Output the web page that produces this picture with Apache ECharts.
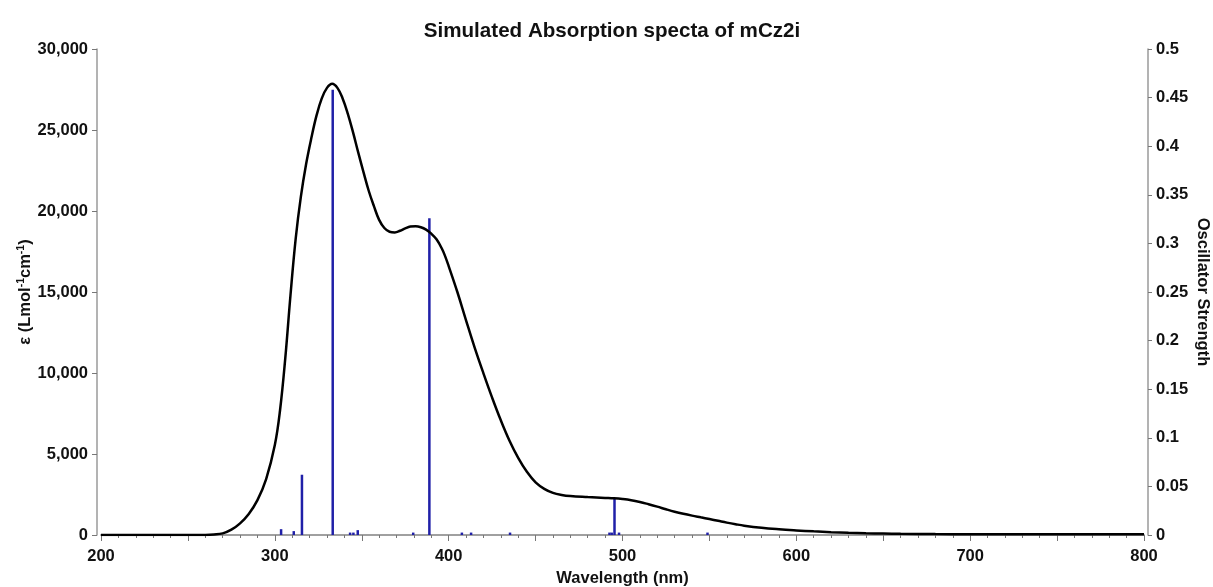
<!DOCTYPE html>
<html>
<head>
<meta charset="utf-8">
<script src="https://cdn.jsdelivr.net/npm/echarts@6/dist/echarts.min.js"></script>
<style>
html,body{margin:0;padding:0;background:#fff;}
#chart{width:1213px;height:587px;}
</style>
</head>
<body>
<div id="chart"></div>
<script>
// Simulated spectrum (wavelength nm, epsilon L mol^-1 cm^-1)
const wavelengths = [200,210,220,230,240,250,260,265,270,275,280,285,290,295,300,303,306,309,312,315,318,321,324,327,330,333,336,339,342,345,348,351,354,357,360,363,366,369,372,375,378,381,384,387,390,393,396,398,400,405,410,415,420,425,430,435,440,445,450,455,460,465,470,480,490,495,500,505,510,515,520,525,530,535,540,545,550,555,560,565,570,580,590,600,610,620,630,640,650,660,680,700,750,800];
const epsilon = [0,0,0,0,0,0,5,30,100,330,720,1300,2150,3450,5550,7700,10900,14800,18300,20900,22900,24500,25900,26950,27600,27850,27600,26950,26000,24850,23600,22400,21250,20300,19450,18950,18720,18680,18780,18930,19040,19060,19000,18850,18600,18250,17700,17200,16600,15000,13250,11550,9980,8480,7080,5820,4760,3900,3250,2850,2600,2470,2400,2340,2290,2265,2220,2150,2040,1900,1750,1590,1440,1310,1195,1090,985,875,765,665,575,445,355,285,225,175,135,105,85,70,55,48,42,40];
// Oscillator strength sticks
const stickWavelengths = [303.6,310.9,315.6,333.3,343.3,345.2,347.7,379.6,388.9,407.6,412.9,435.3,492.5,493.8,495.4,498.0,548.9];
const stickStrengths = [0.006,0.004,0.062,0.458,0.0025,0.0025,0.005,0.0025,0.326,0.0025,0.0025,0.0025,0.0025,0.0025,0.038,0.0025,0.0025];
// Axis ticks
const xTicks = {min:200, max:800, interval:50, labelStep:100};
const yLeftTicks = {min:0, max:30000, interval:5000};
const yRightTicks = {min:0, max:0.5, interval:0.05};

const FONT = "'Liberation Sans', Arial, sans-serif";
const AXIS_COLOR = '#9a9a9a';

const curveData = wavelengths.map((w,i)=>[w, epsilon[i]]);
const stickData = stickWavelengths.map((w,i)=>[w, stickStrengths[i]]);

const chart = echarts.init(document.getElementById('chart'), null, {renderer:'canvas'});
chart.setOption({
  animation:false,
  backgroundColor:'#ffffff',
  title:{
    text:'Simulated Absorption specta of mCz2i',
    left:607, top:16, textAlign:'center',
    textStyle:{fontFamily:FONT, fontSize:20.6, fontWeight:'bold', color:'#111'}
  },
  grid:{left:101, right:69, top:49, bottom:52, containLabel:false, outerBoundsMode:'none'},
  xAxis:[{
    type:'value', min:xTicks.min, max:xTicks.max, interval:xTicks.interval,
    position:'bottom', offset:4,
    name:'Wavelength (nm)', nameLocation:'middle', nameGap:31, nameMoveOverlap:false,
    nameTextStyle:{fontFamily:FONT, fontSize:16.5, fontWeight:'bold', color:'#111'},
    axisLine:{show:true, lineStyle:{color:AXIS_COLOR, width:1.5}},
    axisTick:{show:true, inside:false, length:6, lineStyle:{color:'#777'}},
    minorTick:{show:true, splitNumber:5, length:3, lineStyle:{color:'#777'}},
    splitLine:{show:false},
    axisLabel:{margin:9, fontFamily:FONT, fontSize:16.5, fontWeight:'bold', color:'#111',
      formatter:v=> (v % xTicks.labelStep === 0 ? String(v) : '')}
  },{
    type:'value', min:xTicks.min, max:xTicks.max, position:'top', offset:6,
    axisLine:{show:true, lineStyle:{color:AXIS_COLOR, width:1.5}},
    axisTick:{show:false}, axisLabel:{show:false}, splitLine:{show:false}
  }],
  yAxis:[{
    type:'value', min:yLeftTicks.min, max:yLeftTicks.max, interval:yLeftTicks.interval,
    position:'left', offset:4,
    name:'{a|ε (Lmol}{s|-1}{a|cm}{s|-1}{a|)}', nameLocation:'middle', nameGap:63, nameRotate:90,
    nameMoveOverlap:false,
    nameTextStyle:{fontFamily:FONT, fontSize:16.5, fontWeight:'bold', color:'#111',
      rich:{a:{fontFamily:FONT, fontSize:16.5, fontWeight:'bold', color:'#111', verticalAlign:'bottom', lineHeight:18},
            s:{fontFamily:FONT, fontSize:10.5, fontWeight:'bold', color:'#111', verticalAlign:'top', lineHeight:18}}},
    axisLine:{show:true, lineStyle:{color:AXIS_COLOR, width:1.5}},
    axisTick:{show:true, length:5, lineStyle:{color:'#777'}},
    splitLine:{show:false},
    axisLabel:{margin:9, fontFamily:FONT, fontSize:16.5, fontWeight:'bold', color:'#111',
      formatter:v=>Number(v).toLocaleString('en-US')}
  },{
    type:'value', min:yRightTicks.min, max:yRightTicks.max, interval:yRightTicks.interval,
    position:'right', offset:4,
    name:'Oscillator Strength', nameLocation:'middle', nameGap:46, nameRotate:-90,
    nameMoveOverlap:false,
    nameTextStyle:{fontFamily:FONT, fontSize:16.5, fontWeight:'bold', color:'#111'},
    axisLine:{show:true, lineStyle:{color:AXIS_COLOR, width:1.5}},
    axisTick:{show:true, length:4, lineStyle:{color:'#777'}},
    splitLine:{show:false},
    axisLabel:{margin:8, fontFamily:FONT, fontSize:16.5, fontWeight:'bold', color:'#111',
      formatter:v=>String(+Number(v).toFixed(2))}
  }],
  series:[{
    type:'bar', name:'Oscillator Strength', xAxisIndex:0, yAxisIndex:1,
    data:stickData, barWidth:2.5, itemStyle:{color:'#2020a8'}, silent:true, z:2
  },{
    type:'line', name:'Spectrum', xAxisIndex:0, yAxisIndex:0,
    data:curveData, smooth:0.4, symbol:'none',
    lineStyle:{color:'#000', width:2.5}, silent:true, z:3
  }]
});
</script>
</body>
</html>
